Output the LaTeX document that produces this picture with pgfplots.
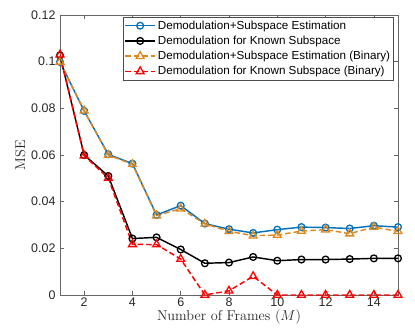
\documentclass[border=0pt]{standalone}
\usepackage{pgfplots}
\pgfplotsset{compat=1.18}
\usepackage{fontspec}
\newfontfamily\helv{Liberation Sans}
\definecolor{mblue}{rgb}{0,0.447,0.741}
\definecolor{morange}{RGB}{222,135,28}
\definecolor{axgray}{rgb}{0.15,0.15,0.15}
\begin{document}
\begin{tikzpicture}
\useasboundingbox (-60bp,-37bp) rectangle (355bp,295bp);
\begin{axis}[
  at={(0,0)}, anchor=south west,
  scale only axis,
  width=338bp, height=280bp,
  xmin=1, xmax=15, ymin=0, ymax=0.12,
  xtick={2,4,...,14},
  ytick={0,0.02,0.04,0.06,0.08,0.1,0.12},
  yticklabels={0,0.02,0.04,0.06,0.08,0.1,0.12},
  tick align=inside,
  major tick length=4bp,
  axis line style={draw=gray!80!black, line width=0.6pt},
  every tick/.style={gray!80!black, line width=0.5pt},
  ticklabel style={font=\helv\fontsize{12.5}{14}\selectfont, text=axgray},
  xticklabel style={yshift=1bp},
  yticklabel style={xshift=-1bp},
  /pgf/number format/assume math mode=true,
  scaled y ticks=false,
  xlabel={Number of Frames ($M$)},
  ylabel={MSE},
  xlabel style={font=\fontsize{14.3}{16}\selectfont, text=axgray, yshift=3bp},
  ylabel style={font=\fontsize{14.3}{16}\selectfont, text=axgray, yshift=-1bp},
  legend style={at={(rel axis cs:0.988,0.993)}, anchor=north east,
    font=\helv\fontsize{11.7}{13}\selectfont, draw=gray!60!black, line width=0.6pt,
    row sep=1.3pt, inner sep=1.5pt},
  legend cell align=left,
  legend image code/.code={\draw[mark repeat=2, mark phase=2] plot coordinates {(0bp,0bp)(15bp,0bp)(30bp,0bp)};},
  every axis plot/.append style={line width=1.45pt},
]
\addplot[mblue, mark=o, mark size=3.4bp, mark options={solid, line width=1.3pt}] coordinates {
(1,0.0999)(2,0.0789)(3,0.0603)(4,0.0563)(5,0.0343)(6,0.0383)(7,0.0306)(8,0.0282)
(9,0.0266)(10,0.0280)(11,0.0291)(12,0.0289)(13,0.0285)(14,0.0297)(15,0.0291)};
\addlegendentry{Demodulation+Subspace Estimation}
\addplot[black, mark=o, mark size=3.4bp, mark options={solid, line width=1.3pt}] coordinates {
(1,0.1027)(2,0.0600)(3,0.0510)(4,0.0242)(5,0.0247)(6,0.0195)(7,0.0136)(8,0.0139)
(9,0.0163)(10,0.0147)(11,0.0152)(12,0.0152)(13,0.0154)(14,0.0157)(15,0.0157)};
\addlegendentry{Demodulation for Known Subspace}
\addplot[morange, dash pattern=on 5.5bp off 3bp, mark=triangle, mark size=4.5bp, mark options={solid, line width=1.3pt}] coordinates {
(1,0.0999)(2,0.0790)(3,0.0600)(4,0.0560)(5,0.0340)(6,0.0370)(7,0.0305)(8,0.0273)
(9,0.0254)(10,0.0257)(11,0.0274)(12,0.0280)(13,0.0263)(14,0.0291)(15,0.0273)};
\addlegendentry{Demodulation+Subspace Estimation (Binary)}
\addplot[red, dash pattern=on 5.5bp off 3bp, mark=triangle, mark size=4.5bp, mark options={solid, line width=1.3pt}] coordinates {
(1,0.1030)(2,0.0597)(3,0.0501)(4,0.0217)(5,0.0216)(6,0.0154)(7,0.0)(8,0.0018)
(9,0.0080)(10,0.0)(11,0.0)(12,0.0)(13,0.0)(14,0.0)(15,0.0)};
\addlegendentry{Demodulation for Known Subspace (Binary)}
\end{axis}
\end{tikzpicture}
\end{document}
